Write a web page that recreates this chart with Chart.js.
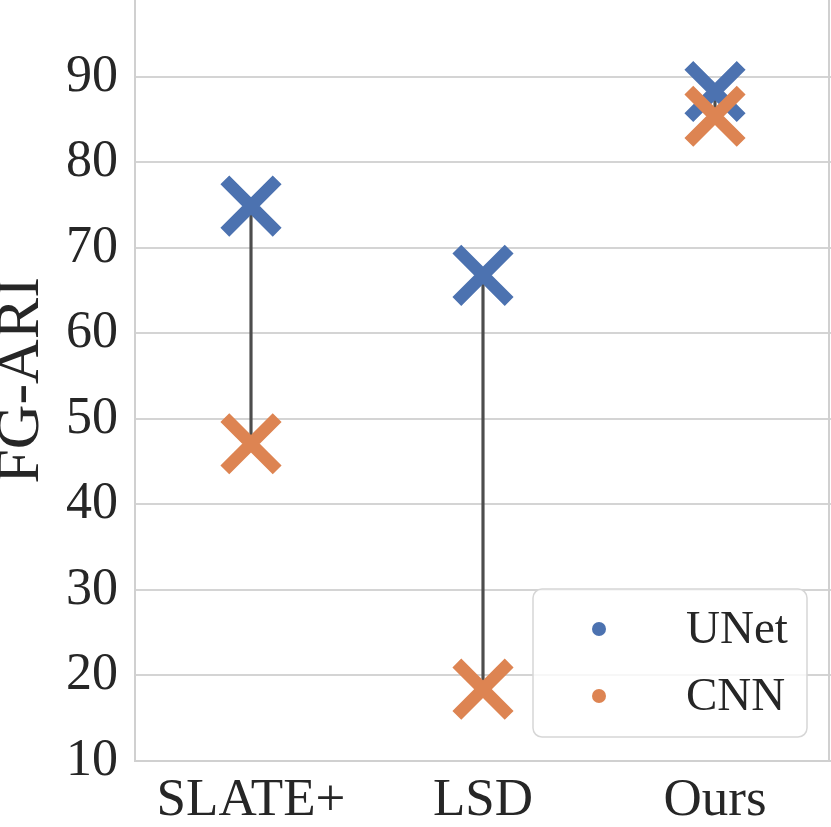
<!DOCTYPE html>
<html>
<head>
<meta charset="utf-8">
<script src="https://cdn.jsdelivr.net/npm/chart.js@4.4.1/dist/chart.umd.min.js"></script>
<style>
  html, body { margin: 0; padding: 0; background: #fff; }
  canvas { display: block; }
</style>
</head>
<body>
<canvas id="fgari-chart" width="831" height="827"></canvas>
<script>
// values
const methods = ["SLATE+", "LSD", "Ours"];
const unetScores = [74.9, 66.8, 88.3];
const cnnScores = [47.1, 18.4, 85.4];
const yTicks = [10, 20, 30, 40, 50, 60, 70, 80, 90];

const BLUE = "#4c72b0";
const ORANGE = "#dd8452";
const SERIF = "'Liberation Serif', 'Times New Roman', serif";

// legend drawn inside the plot, lower right, like the matplotlib one
const innerLegend = {
    id: "innerLegend",
    afterDatasetsDraw(chart) {
        const { ctx, chartArea } = chart;
        const w = 274, h = 148;
        const x = chartArea.right - 24 - w;
        const y = chartArea.bottom - 24 - h;
        ctx.save();
        ctx.beginPath();
        ctx.roundRect(x, y, w, h, 9);
        ctx.fillStyle = "rgba(255,255,255,0.8)";
        ctx.fill();
        ctx.lineWidth = 1.5;
        ctx.strokeStyle = "#d6d6d6";
        ctx.stroke();

        const items = [
            { label: "UNet", color: BLUE },
            { label: "CNN", color: ORANGE }
        ];
        ctx.font = "47px " + SERIF;
        ctx.textBaseline = "alphabetic";
        ctx.textAlign = "left";
        items.forEach((item, i) => {
            const cy = y + 40 + i * 67;
            ctx.beginPath();
            ctx.arc(x + 66, cy, 7, 0, Math.PI * 2);
            ctx.fillStyle = item.color;
            ctx.fill();
            ctx.fillStyle = "#262626";
            ctx.fillText(item.label, x + 153, cy + 14);
        });
        ctx.restore();
    }
};

// right spine
const rightSpine = {
    id: "rightSpine",
    beforeDatasetsDraw(chart) {
        const { ctx, chartArea } = chart;
        ctx.save();
        ctx.strokeStyle = "#d0d0d0";
        ctx.lineWidth = 2;
        ctx.beginPath();
        ctx.moveTo(chartArea.right - 2, chartArea.top);
        ctx.lineTo(chartArea.right - 2, chartArea.bottom);
        ctx.stroke();
        ctx.restore();
    }
};

const ctx = document.getElementById("fgari-chart").getContext("2d");
new Chart(ctx, {
    type: "bar",
    data: {
        labels: methods,
        datasets: [
            {
                // thin connector between the two encoders
                label: "gap",
                data: methods.map((m, i) => [cnnScores[i], unetScores[i]]),
                backgroundColor: "#4d4d4d",
                barThickness: 2.5,
                order: 3
            },
            {
                type: "line",
                label: "UNet",
                data: unetScores,
                showLine: false,
                pointStyle: "crossRot",
                pointRadius: 37,
                pointBorderWidth: 12.5,
                pointBorderColor: BLUE,
                pointBackgroundColor: BLUE,
                order: 2
            },
            {
                type: "line",
                label: "CNN",
                data: cnnScores,
                showLine: false,
                pointStyle: "crossRot",
                pointRadius: 37,
                pointBorderWidth: 12.5,
                pointBorderColor: ORANGE,
                pointBackgroundColor: ORANGE,
                order: 1
            }
        ]
    },
    options: {
        responsive: false,
        devicePixelRatio: 1,
        animation: false,
        events: [],
        layout: { padding: 0, autoPadding: false },
        plugins: {
            legend: { display: false },
            tooltip: { enabled: false }
        },
        scales: {
            x: {
                offset: true,
                grid: { display: false, drawTicks: false },
                border: { display: true, color: "#d0d0d0", width: 2 },
                ticks: {
                    color: "#262626",
                    padding: 8,
                    font: { family: SERIF, size: 53 }
                },
                afterFit(scale) {
                    scale.height = 66;
                    scale.paddingLeft = 0;
                    scale.paddingRight = 0;
                }
            },
            y: {
                min: 10,
                max: 99,
                afterBuildTicks(scale) {
                    scale.ticks = yTicks.map(v => ({ value: v }));
                },
                grid: { color: "#d4d4d4", lineWidth: 2, drawTicks: false },
                border: { display: true, color: "#d0d0d0", width: 2 },
                ticks: {
                    color: "#262626",
                    padding: 17,
                    font: { family: SERIF, size: 52 }
                },
                title: {
                    display: true,
                    text: "FG-ARI",
                    color: "#262626",
                    padding: 0,
                    font: { family: SERIF, size: 62, lineHeight: 0.7 }
                },
                afterFit(scale) {
                    scale.width = 135;
                    scale.paddingTop = 0;
                    scale.paddingBottom = 0;
                }
            }
        }
    },
    plugins: [rightSpine, innerLegend]
});
</script>
</body>
</html>
